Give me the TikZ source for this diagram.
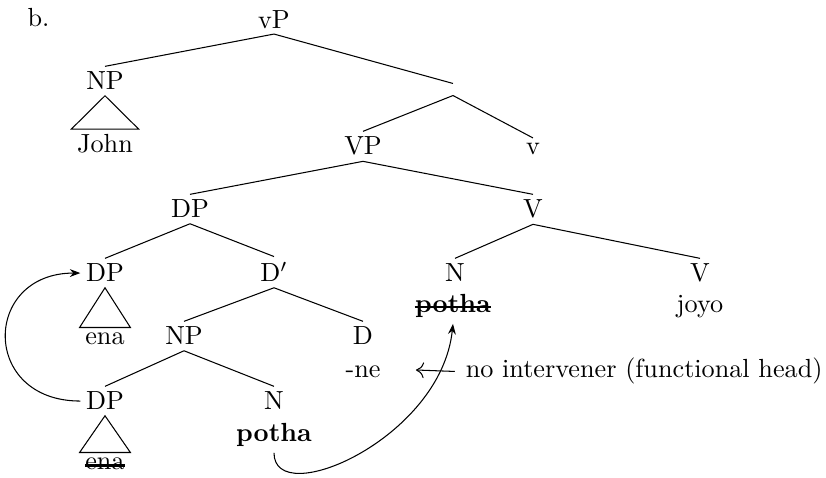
\documentclass[tikz,border=0pt]{standalone}
\usetikzlibrary{arrows.meta}
\begin{document}
\begin{tikzpicture}[x=0.3817pt,y=-0.3817pt,
  lab/.style={anchor=base,inner sep=2pt},
  edge/.style={draw,line width=0.4pt},
  roof/.style={draw,line width=0.4pt},
  strike/.style={line width=0.8pt},
  mov/.style={-{Stealth[length=4pt,width=3pt]},line width=0.4pt}]
\useasboundingbox (0,0) rectangle (826,478);
% labels
\node[anchor=base west,inner sep=0pt] (ex) at (27,27) {b.};
\node[lab] (vP) at (274,28) {vP};
\node[lab] (NP1) at (105,90) {NP};
\node[lab] (john) at (105,153) {John};
\node[inner sep=0pt,minimum height=4.2pt,minimum width=0pt] (vbar) at (453,89.5) {};
\node[lab] (VP) at (363,155) {VP};
\node[lab] (v) at (533,155) {v};
\node[lab] (DPm) at (190,218) {DP};
\node[lab] (Vm) at (533,218) {V};
\node[lab] (DPu) at (105,282) {DP};
\node[lab] (Dbar) at (274,282) {D$'$};
\node[lab] (Nu) at (455,282) {N};
\node[lab] (Vr) at (700,282) {V};
\node[lab] (pothaS) at (453,313) {\textbf{potha}};
\node[lab] (joyo) at (700,313) {joyo};
\node[lab] (ena1) at (105,345) {ena};
\node[lab] (NP2) at (184,345) {NP};
\node[lab] (D) at (363,345) {D};
\node[lab] (ne) at (363,378) {-ne};
\node[anchor=base west,inner sep=2pt] (note) at (460,378) {no intervener (functional head)};
\node[lab] (DPl) at (105,410) {DP};
\node[lab] (Nl) at (274,410) {N};
\node[lab] (potha) at (274,442) {\textbf{potha}};
\node[lab] (ena2) at (105,470) {ena};
\coordinate (arrowend) at (416,370);
% strike-throughs
\draw[strike] ([xshift=2pt,yshift=2.3pt]pothaS.base west) -- ([xshift=-2pt,yshift=2.3pt]pothaS.base east);
\draw[strike] ([xshift=2pt,yshift=1.7pt]ena2.base west) -- ([xshift=-2pt,yshift=1.7pt]ena2.base east);
% edges
\draw[edge] (vP.south) -- (NP1.north);
\draw[edge] (vP.south) -- (vbar.north);
\draw[edge] (vbar.south) -- (VP.north);
\draw[edge] (vbar.south) -- (v.north);
\draw[edge] (VP.south) -- (DPm.north);
\draw[edge] (VP.south) -- (Vm.north);
\draw[edge] (DPm.south) -- (DPu.north);
\draw[edge] (DPm.south) -- (Dbar.north);
\draw[edge] (Vm.south) -- (Nu.north);
\draw[edge] (Vm.south) -- (Vr.north);
\draw[edge] (Dbar.south) -- (NP2.north);
\draw[edge] (Dbar.south) -- (D.north);
\draw[edge] (NP2.south) -- (DPl.north);
\draw[edge] (NP2.south) -- (Nl.north);
% roofs
\draw[roof] (NP1.south) -- (john.north west) -- (john.north east) -- cycle;
\draw[roof] (DPu.south) -- (ena1.north west) -- (ena1.north east) -- cycle;
\draw[roof] (DPl.south) -- (ena2.north west) -- (ena2.north east) -- cycle;
% arrows
\draw[-{Computer Modern Rightarrow[length=3pt,width=6pt]},line width=0.4pt] ([xshift=-2pt]note.west) -- (arrowend);
\draw[mov] (DPl.west) .. controls +(-100,0) and +(-98,0) .. (DPu.west);
\draw[mov] (potha.south) .. controls +(0,58) and +(-12,115) .. (pothaS.south);
\end{tikzpicture}
\end{document}
